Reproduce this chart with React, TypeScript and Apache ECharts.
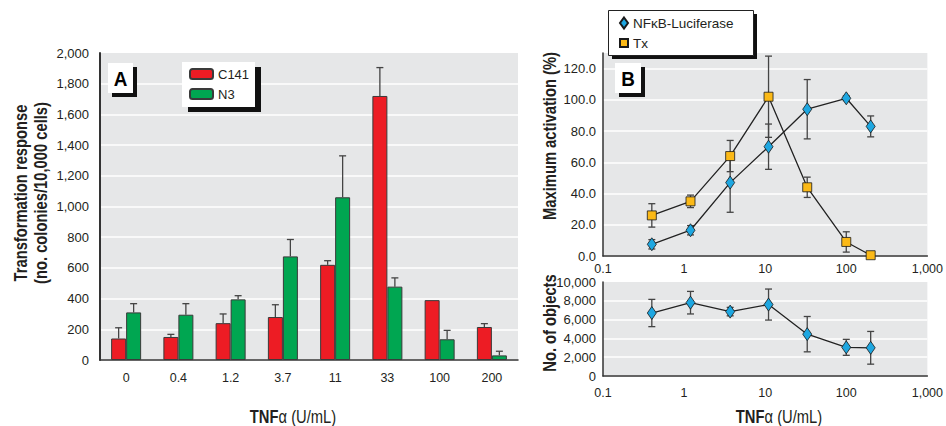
import React, { useEffect, useRef } from 'react';
import * as echarts from 'echarts';

// Panel A
const categories = ['0', '0.4', '1.2', '3.7', '11', '33', '100', '200'];
const c141 = [140, 150, 240, 280, 620, 1720, 390, 215];
const c141Err = [70, 17, 60, 80, 27, 185, 0, 22];
const n3 = [310, 295, 395, 675, 1060, 478, 135, 30];
const n3Err = [57, 72, 24, 110, 270, 57, 58, 27];

// Panel B
const doses = [0.4, 1.2, 3.7, 11, 33, 100, 200];
const nfkb = [7.5, 16.5, 47, 70, 94, 101, 83];
const nfkbErr = [3, 3, 19, 14.5, 19, 1.5, 6.7];
const tx = [26, 35, 64, 102, 44, 9, 0.5];
const txErr = [7.5, 4, 10, 26, 6.5, 6.5, 2];
const objects = [6700, 7800, 6850, 7600, 4450, 3050, 3000];
const objectsErr = [1450, 1200, 450, 1650, 1880, 850, 1740];

const FONT = "'Liberation Sans Narrow', 'Arial Narrow', 'Liberation Sans', Arial, sans-serif";
const TXT = '#231f20';
const GRAY_BG = '#e6e7e8';
const RED = '#ed1c24';
const GREEN = '#00a651';
const BLUE = '#1ea7e1';
const YELLOW = '#fbb917';
const ERR = '#444';
const NARROW = 0.82;

const fmtComma = (v: number) => {
  const r = Number(Number(v).toPrecision(6));
  return r >= 1000 ? r.toLocaleString('en-US') : String(r);
};

function barErr(offset: number, vals: number[], errs: number[]) {
  return {
    type: 'custom',
    xAxisIndex: 0,
    yAxisIndex: 0,
    z: 3,
    silent: true,
    data: vals.map((v, i) => [i, v, errs[i]]),
    encode: { x: 0, y: 1 },
    renderItem: (params: any, api: any) => {
      const i = api.value(0);
      const v = api.value(1);
      const e = api.value(2);
      if (!e) return null;
      const p0 = api.coord([i, v]);
      const p1 = api.coord([i, v + e]);
      const x = p0[0] + offset;
      const style = { stroke: ERR, lineWidth: 1.3 };
      return {
        type: 'group',
        children: [
          { type: 'line', shape: { x1: x, y1: p0[1], x2: x, y2: p1[1] }, style },
          { type: 'line', shape: { x1: x - 3.5, y1: p1[1], x2: x + 3.5, y2: p1[1] }, style },
        ],
      };
    },
  };
}

function pointErr(gridIdx: number, vals: number[], errs: number[]) {
  return {
    type: 'custom',
    xAxisIndex: gridIdx,
    yAxisIndex: gridIdx,
    z: 1,
    silent: true,
    data: doses.map((d, i) => [d, vals[i], errs[i]]),
    encode: { x: 0, y: 1 },
    renderItem: (params: any, api: any) => {
      const d = api.value(0);
      const v = api.value(1);
      const e = api.value(2);
      const pt = api.coord([d, v + e]);
      const pb = api.coord([d, v - e]);
      const x = pt[0];
      const style = { stroke: ERR, lineWidth: 1.3 };
      return {
        type: 'group',
        children: [
          { type: 'line', shape: { x1: x, y1: pt[1], x2: x, y2: pb[1] }, style },
          { type: 'line', shape: { x1: x - 3.5, y1: pt[1], x2: x + 3.5, y2: pt[1] }, style },
          { type: 'line', shape: { x1: x - 3.5, y1: pb[1], x2: x + 3.5, y2: pb[1] }, style },
        ],
      };
    },
  };
}

const logAxis = (gridIndex: number, margin: number) => ({
  type: 'log',
  gridIndex,
  logBase: 10,
  min: 0.1,
  max: 1000,
  axisLine: { show: true, lineStyle: { color: '#333', width: 1.5 } },
  axisTick: { show: false },
  splitLine: { show: false },
  axisLabel: { color: TXT, fontFamily: FONT, fontSize: 12.5, margin, formatter: fmtComma },
});

const titleStyle = { fontFamily: FONT, fontWeight: 'bold', fontSize: 18, fill: TXT };

function labelBox(x: number, y: number, w: number, h: number, letter: string) {
  return [
    { type: 'rect', z: 100, shape: { x: x + 4, y: y + 4, width: w, height: h }, style: { fill: '#111' } },
    { type: 'rect', z: 101, shape: { x, y, width: w, height: h }, style: { fill: '#fff' } },
    {
      type: 'text', z: 102, x: x + w / 2, y: y + h / 2 + 1, scaleX: 0.9,
      style: { text: letter, fontFamily: FONT, fontWeight: 'bold', fontSize: 21, fill: '#000', align: 'center', verticalAlign: 'middle' },
    },
  ];
}

const xTitle = (x: number) => ({
  type: 'text', x, y: 416, scaleX: NARROW,
  style: {
    text: '{b|TNF}{r|α (U/mL)}', align: 'center', verticalAlign: 'middle',
    rich: {
      b: { fontFamily: FONT, fontWeight: 'bold', fontSize: 18, fill: TXT },
      r: { fontFamily: FONT, fontSize: 18, fill: TXT },
    },
  },
});

const option: any = {
  animation: false,
  backgroundColor: '#fff',
  grid: [
    { left: 100, top: 53, width: 418, height: 307, show: true, backgroundColor: GRAY_BG, borderWidth: 0 },
    { left: 603, top: 53, width: 325, height: 203, show: true, backgroundColor: GRAY_BG, borderWidth: 0 },
    { left: 603, top: 282, width: 325, height: 94, show: true, backgroundColor: GRAY_BG, borderWidth: 0 },
  ],
  xAxis: [
    {
      type: 'category',
      gridIndex: 0,
      data: categories,
      axisLine: { show: true, lineStyle: { color: '#333', width: 1.5 } },
      axisTick: { show: false },
      axisLabel: { color: TXT, fontFamily: FONT, fontSize: 12.5, margin: 11 },
    },
    logAxis(1, 6),
    logAxis(2, 10),
  ],
  yAxis: [
    {
      type: 'value',
      gridIndex: 0,
      min: 0,
      max: 2000,
      interval: 200,
      axisLine: { show: true, lineStyle: { color: '#333', width: 2 } },
      axisTick: { show: false },
      splitLine: { show: true, showMaxLine: false, lineStyle: { color: '#fff', width: 1.5 } },
      axisLabel: { color: TXT, fontFamily: FONT, fontSize: 13, margin: 11, formatter: fmtComma },
    },
    {
      type: 'value',
      gridIndex: 1,
      min: 0,
      max: 130,
      interval: 20,
      axisLine: { show: true, lineStyle: { color: '#333', width: 1.5 } },
      axisTick: { show: false },
      splitLine: { show: true, showMaxLine: false, lineStyle: { color: '#fff', width: 1.5 } },
      axisLabel: { color: TXT, fontFamily: FONT, fontSize: 13, margin: 7, showMaxLabel: false, formatter: (v: number) => v.toFixed(1) },
    },
    {
      type: 'value',
      gridIndex: 2,
      min: 0,
      max: 10000,
      interval: 2000,
      axisLine: { show: true, lineStyle: { color: '#333', width: 1.5 } },
      axisTick: { show: false },
      splitLine: { show: true, showMaxLine: false, lineStyle: { color: '#fff', width: 1.5 } },
      axisLabel: { color: TXT, fontFamily: FONT, fontSize: 13, margin: 7, formatter: fmtComma },
    },
  ],
  legend: [
    {
      z: 200,
      orient: 'vertical',
      left: 189,
      top: 67.5,
      padding: 0,
      itemWidth: 23,
      itemHeight: 10,
      itemGap: 7,
      data: ['C141', 'N3'],
      textStyle: { color: TXT, fontFamily: FONT, fontSize: 13 },
      selectedMode: false,
    },
    {
      z: 200,
      orient: 'vertical',
      left: 619,
      top: 16,
      padding: 0,
      itemWidth: 8,
      itemHeight: 11,
      itemGap: 6,
      symbolKeepAspect: true,
      data: [
        { name: 'NFκB-Luciferase', icon: 'diamond' },
        { name: 'Tx', icon: 'path://M0,0H10V10H0Z' },
      ],
      textStyle: { color: TXT, fontFamily: FONT, fontSize: 13.5 },
      selectedMode: false,
    },
  ],
  series: [
    {
      name: 'C141',
      type: 'bar',
      xAxisIndex: 0,
      yAxisIndex: 0,
      data: c141,
      barWidth: 15,
      barGap: '0%',
      itemStyle: { color: RED, borderColor: '#3a3a3a', borderWidth: 1 },
    },
    {
      name: 'N3',
      type: 'bar',
      xAxisIndex: 0,
      yAxisIndex: 0,
      data: n3,
      barWidth: 15,
      barGap: '0%',
      itemStyle: { color: GREEN, borderColor: '#3a3a3a', borderWidth: 1 },
    },
    barErr(-7.5, c141, c141Err),
    barErr(7.5, n3, n3Err),
    pointErr(1, nfkb, nfkbErr),
    pointErr(1, tx, txErr),
    pointErr(2, objects, objectsErr),
    {
      name: 'NFκB-Luciferase',
      type: 'line',
      xAxisIndex: 1,
      yAxisIndex: 1,
      z: 5,
      data: doses.map((d, i) => [d, nfkb[i]]),
      symbol: 'diamond',
      symbolSize: [9, 13],
      lineStyle: { color: '#222', width: 1.3 },
      itemStyle: { color: BLUE, borderColor: '#1a1a1a', borderWidth: 0.8 },
    },
    {
      name: 'Tx',
      type: 'line',
      xAxisIndex: 1,
      yAxisIndex: 1,
      z: 5,
      data: doses.map((d, i) => [d, tx[i]]),
      symbol: 'rect',
      symbolSize: 9,
      lineStyle: { color: '#222', width: 1.3 },
      itemStyle: { color: YELLOW, borderColor: '#1a1a1a', borderWidth: 0.8 },
    },
    {
      name: 'Objects',
      type: 'line',
      xAxisIndex: 2,
      yAxisIndex: 2,
      z: 5,
      data: doses.map((d, i) => [d, objects[i]]),
      symbol: 'diamond',
      symbolSize: [9, 13],
      lineStyle: { color: '#222', width: 1.3 },
      itemStyle: { color: BLUE, borderColor: '#1a1a1a', borderWidth: 0.8 },
    },
  ],
  graphic: [
    ...labelBox(108, 63, 25, 30, 'A'),
    ...labelBox(615, 63, 26, 30, 'B'),
    // legend A box
    { type: 'rect', z: 100, shape: { x: 188, y: 67, width: 73, height: 45 }, style: { fill: '#111' } },
    { type: 'rect', z: 101, shape: { x: 182, y: 62, width: 73, height: 45 }, style: { fill: '#fff' } },
    // legend B box
    { type: 'rect', z: 100, shape: { x: 612, y: 14, width: 145, height: 45 }, style: { fill: '#111' } },
    { type: 'rect', z: 101, shape: { x: 608.5, y: 10.5, width: 145, height: 45 }, style: { fill: '#fff', stroke: '#222', lineWidth: 1 } },
    // titles
    {
      type: 'text', x: 30, y: 193, rotation: Math.PI / 2, scaleX: NARROW,
      style: { ...titleStyle, text: 'Transformation response\n(no. colonies/10,000 cells)', lineHeight: 20, align: 'center', verticalAlign: 'middle' },
    },
    {
      type: 'text', x: 549, y: 136, rotation: Math.PI / 2, scaleX: NARROW,
      style: { ...titleStyle, text: 'Maximum activation (%)', align: 'center', verticalAlign: 'middle' },
    },
    {
      type: 'text', x: 549, y: 323, rotation: Math.PI / 2, scaleX: NARROW,
      style: { ...titleStyle, text: 'No. of objects', align: 'center', verticalAlign: 'middle' },
    },
    xTitle(293),
    xTitle(779),
  ],
};

export default function App() {
  const ref = useRef<HTMLDivElement>(null);
  useEffect(() => {
    const chart = echarts.init(ref.current as HTMLDivElement, null, { renderer: 'svg' });
    chart.setOption(option);
    return () => chart.dispose();
  }, []);
  return (
    <div
      ref={ref}
      style={{ position: 'absolute', left: 0, top: 0, width: 946, height: 426, background: '#fff' }}
    />
  );
}
